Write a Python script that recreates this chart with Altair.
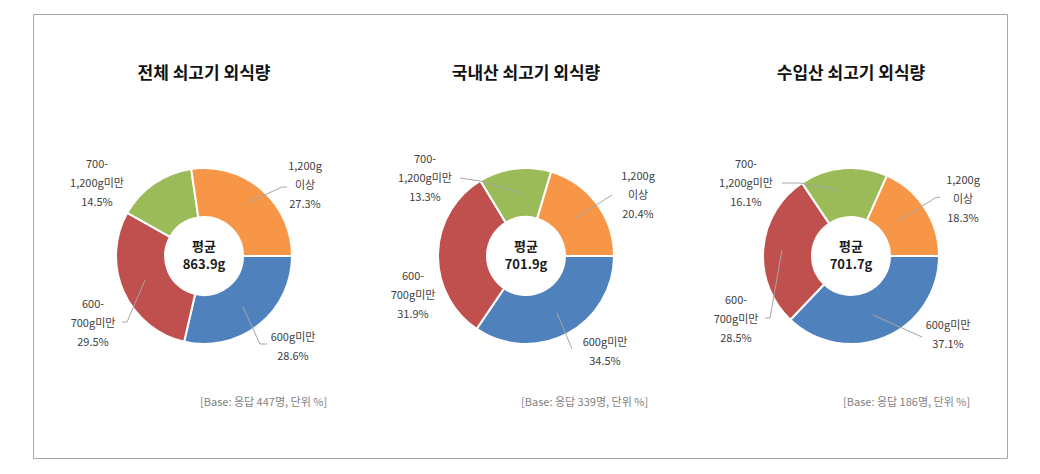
import math
import altair as alt
import pandas as pd

# ---------------- data ----------------
categories = ["600g미만", "600-700g미만", "700-1,200g미만", "1,200g 이상"]
label_lines = [["600g미만"], ["600-", "700g미만"], ["700-", "1,200g미만"], ["1,200g", "이상"]]
colors = ["#4F81BD", "#C0504D", "#9BBB59", "#F79646"]

titles = ["전체 쇠고기 외식량", "국내산 쇠고기 외식량", "수입산 쇠고기 외식량"]
total_vals = [28.6, 29.5, 14.5, 27.3]
domestic_vals = [34.5, 31.9, 13.3, 20.4]
imported_vals = [37.1, 28.5, 16.1, 18.3]
means = ["863.9g", "701.9g", "701.7g"]
bases = [447, 339, 186]
series = [total_vals, domestic_vals, imported_vals]

# ---------------- layout (page pixels) ----------------
OX, OY = 33, 14           # border / view origin
W, H = 974, 444
centers = [(204, 256), (526, 256), (851, 256)]
R_OUT, R_IN = 88, 39
title_y = 74
base_pos = [(200, 403), (521, 403), (843, 403)]
LH = 19
# label block centres per panel, category order
label_centers = [
    [(293, 347), (93, 324), (97, 184), (305, 186)],
    [(605, 352), (413, 296), (425, 179), (638, 196)],
    [(948, 335), (736, 320), (746, 184), (963, 200)],
]
# leader lines (page pixels), per panel
leaders = [
    [[(247, 203), (282, 187), (287, 187)],
     [(243, 307), (260, 344), (267, 344)],
     [(145, 280), (127, 322), (122, 322)]],
    [[(576, 218), (612, 195)],
     [(522, 193), (480, 181), (460, 178)],
     [(557, 313), (572, 349)]],
    [[(897, 222), (935, 198), (940, 197)],
     [(838, 190), (800, 183), (782, 183)],
     [(782, 250), (770, 318), (765, 318)],
     [(873, 315), (922, 337)]],
]

FONT = "Noto Sans CJK KR"

# ---------------- build ----------------
layers = []
theta_scale = alt.Scale(range=[math.pi / 2, math.pi / 2 + 2 * math.pi])
color_scale = alt.Scale(domain=categories, range=colors)

for p, vals in enumerate(series):
    df = pd.DataFrame({"cat": categories, "value": vals, "ord": list(range(len(categories)))})
    cx, cy = centers[p]
    arc = alt.Chart(df).mark_arc(
        innerRadius=R_IN, outerRadius=R_OUT, stroke="white", strokeWidth=2
    ).encode(
        theta=alt.Theta("value:Q", stack="normalize", scale=theta_scale),
        order=alt.Order("ord:Q"),
        color=alt.Color("cat:N", scale=color_scale, legend=None),
        x=alt.value(cx - OX),
        y=alt.value(cy - OY),
    )
    layers.append(arc)

# leader lines
lead_rows = []
lid = 0
for p in range(3):
    for pts in leaders[p]:
        for k, (x, y) in enumerate(pts):
            lead_rows.append({"id": lid, "k": k, "x": x - OX, "y": y - OY})
        lid += 1
lead_df = pd.DataFrame(lead_rows)
layers.append(
    alt.Chart(lead_df).mark_line(color="#a6a6a6", strokeWidth=1).encode(
        x=alt.X("x:Q", scale=None, axis=None),
        y=alt.Y("y:Q", scale=None, axis=None),
        detail="id:N",
        order="k:Q",
    )
)

# slice labels
lab_rows = []
for p, vals in enumerate(series):
    for i, v in enumerate(vals):
        lines = label_lines[i] + [f"{v:.1f}%"]
        lx, ly = label_centers[p][i]
        n = len(lines)
        for j, t in enumerate(lines):
            lab_rows.append({"x": lx - OX, "y": ly + (j - (n - 1) / 2) * LH - OY, "t": t})
layers.append(
    alt.Chart(pd.DataFrame(lab_rows)).mark_text(
        font=FONT, fontSize=11, color="#404040", align="center", baseline="middle"
    ).encode(
        x=alt.X("x:Q", scale=None, axis=None),
        y=alt.Y("y:Q", scale=None, axis=None),
        text="t:N",
    )
)

# centre text
ctr_rows = []
for p in range(3):
    cx, cy = centers[p]
    ctr_rows.append({"x": cx - OX, "y": cy - 9 - OY, "t": "평균"})
    ctr_rows.append({"x": cx - OX, "y": cy + 9 - OY, "t": means[p]})
layers.append(
    alt.Chart(pd.DataFrame(ctr_rows)).mark_text(
        font=FONT, fontSize=13, fontWeight="bold", color="#1a1a1a", align="center", baseline="middle"
    ).encode(
        x=alt.X("x:Q", scale=None, axis=None),
        y=alt.Y("y:Q", scale=None, axis=None),
        text="t:N",
    )
)

# titles
tit_rows = [{"x": centers[p][0] - OX, "y": title_y - OY, "t": titles[p]} for p in range(3)]
layers.append(
    alt.Chart(pd.DataFrame(tit_rows)).mark_text(
        font=FONT, fontSize=17, fontWeight="bold", color="#111111", align="center", baseline="middle"
    ).encode(
        x=alt.X("x:Q", scale=None, axis=None),
        y=alt.Y("y:Q", scale=None, axis=None),
        text="t:N",
    )
)

# base notes
base_rows = [{"x": base_pos[p][0] - OX, "y": base_pos[p][1] - OY,
              "t": f"[Base: 응답 {bases[p]}명, 단위 %]"} for p in range(3)]
layers.append(
    alt.Chart(pd.DataFrame(base_rows)).mark_text(
        font=FONT, fontSize=11, color="#7f7f7f", align="left", baseline="middle"
    ).encode(
        x=alt.X("x:Q", scale=None, axis=None),
        y=alt.Y("y:Q", scale=None, axis=None),
        text="t:N",
    )
)

chart = alt.layer(*layers).properties(
    width=W, height=H,
    autosize=alt.AutoSizeParams(type="none"),
    padding={"left": OX, "top": OY, "right": 1040 - OX - W, "bottom": 474 - OY - H},
    background="white",
).configure_view(stroke="#a6a6a6", strokeWidth=1)

chart.save("out.html", embed_options={"renderer": "svg", "actions": False})
